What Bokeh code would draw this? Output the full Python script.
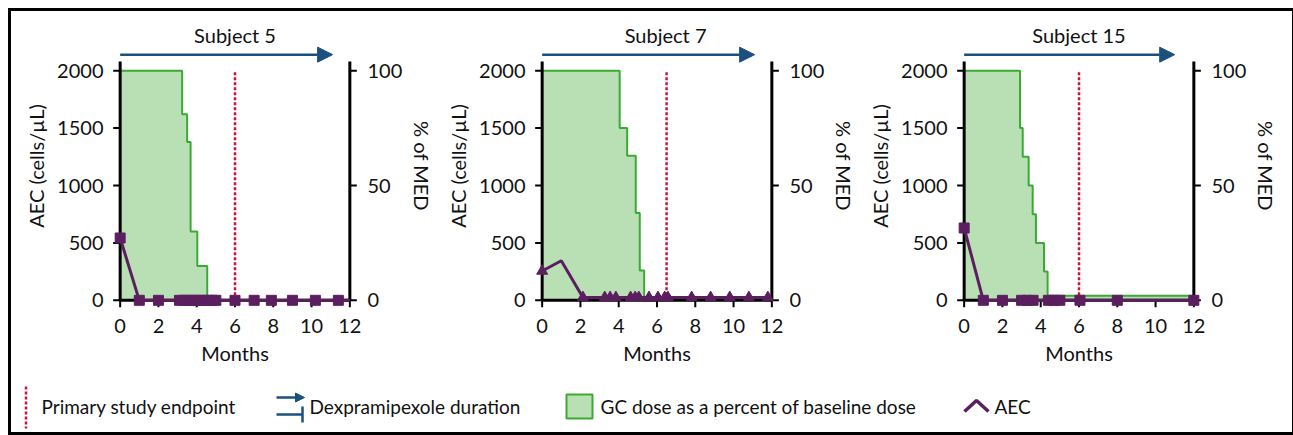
from bokeh.plotting import figure
from bokeh.models import Range1d, LinearAxis, FixedTicker, Arrow, NormalHead, Label
from bokeh.layouts import row, column
from bokeh.embed import file_html
from bokeh.resources import INLINE
from bokeh.core.properties import value

FONT = "Lato"
PURPLE = "#5b1f60"
GREEN_FILL = "#b9dfb4"
GREEN_LINE = "#3aaa35"
RED = "#d0103a"
BLUE = "#1b4f80"
INK = "#111111"

# ---------------- data ----------------
subjects = ["Subject 5", "Subject 7", "Subject 15"]
endpoint_month = [6.0, 6.5, 6.0]
dex_end_month = [11.1, 11.1, 11.0]

# GC dose (% of baseline / MED), step changes (value holds until next time)
gc5_t = [0, 3.24, 3.50, 3.68, 4.03, 4.55, 12]
gc5_pct = [100, 81, 69, 30, 15, 0, 0]
gc7_t = [0, 4.05, 4.44, 4.89, 5.10, 5.33, 12]
gc7_pct = [100, 75, 63, 38, 13, 0, 0]
gc15_t = [0, 2.92, 3.06, 3.37, 3.58, 3.75, 4.17, 4.36, 12]
gc15_pct = [100, 75, 62.5, 50, 37.5, 25, 12.5, 2, 2]

# AEC (cells/uL)
aec5_t = [0, 1, 2, 3.1, 3.35, 3.6, 3.85, 4.1, 4.35, 4.6, 4.8, 5.0, 6, 7, 7.9, 9, 10.2, 11.4, 12]
aec5 = [543, 0, 0, 0, 0, 0, 0, 0, 0, 0, 0, 0, 0, 0, 0, 0, 0, 0, 0]
aec5_marked = [True] * 18 + [False]

aec7_t = [0, 1.0, 2.13, 3.27, 3.55, 3.85, 4.62, 4.86, 5.05, 5.58, 6.05, 6.4, 6.57, 7.81, 8.8, 9.8, 10.8, 11.79]
aec7 = [255, 345, 25, 25, 25, 25, 25, 25, 25, 25, 25, 25, 25, 25, 25, 25, 25, 25]
aec7_marked = [True, False] + [True] * 16

aec15_t = [0, 1, 2, 3.0, 3.3, 3.6, 4.4, 4.7, 5.0, 6.05, 8, 12]
aec15 = [630, 0, 0, 0, 0, 0, 0, 0, 0, 0, 0, 0]
aec15_marked = [True] * 12

x_ticks = [0, 2, 4, 6, 8, 10, 12]
aec_ticks = [0, 500, 1000, 1500, 2000]
pct_ticks = [0, 50, 100]

legend_labels = ["Primary study endpoint", "Dexpramipexole duration",
                 "GC dose as a percent of baseline dose", "AEC"]

# ---------------- layout constants ----------------
title_x = [6.0, 6.45, 6.0]
TITLE_Y = 2315
ARROW_Y = 2140
FRAME_W, FRAME_H = 245, 287
FIG_H = 370
X0, X1 = -0.4, 12.4
Y0, Y1 = -80, 2420
PCT = 20.0              # AEC units per percent on the right axis
X_MAX, AEC_TOP = 12, 2080
TICK_PX = 7
TDX = TICK_PX * (X1 - X0) / FRAME_W
TDY = TICK_PX * (Y1 - Y0) / FRAME_H
FS = "20px"


def style_axis(ax, standoff, label_standoff):
    ax.axis_line_color = None
    ax.major_tick_line_color = None
    ax.minor_tick_line_color = None
    ax.major_tick_out = 0
    ax.major_tick_in = 0
    ax.major_label_text_font = FONT
    ax.major_label_text_font_size = FS
    ax.major_label_text_color = INK
    ax.major_label_standoff = standoff
    ax.axis_label_text_font = FONT
    ax.axis_label_text_font_size = FS
    ax.axis_label_text_font_style = "normal"
    ax.axis_label_text_color = INK
    ax.axis_label_standoff = label_standoff


def make_panel(i, gc_t, gc_pct, aec_t, aec_v, marked, marker, left, right):
    p = figure(frame_width=FRAME_W, frame_height=FRAME_H,
               x_range=Range1d(X0, X1), y_range=Range1d(Y0, Y1),
               output_backend="svg", toolbar_location=None,
               min_border_left=left, min_border_right=right,
               min_border_top=11, min_border_bottom=FIG_H - 11 - FRAME_H)
    p.extra_y_ranges = {"pct": Range1d(Y0 / PCT, Y1 / PCT)}
    p.grid.visible = False
    p.outline_line_color = None

    xa = p.xaxis[0]
    style_axis(xa, 9, 5)
    xa.ticker = FixedTicker(ticks=x_ticks)
    xa.bounds = (0, X_MAX)
    xa.axis_label = "Months"

    ya = p.yaxis[0]
    style_axis(ya, 9, 6)
    ya.ticker = FixedTicker(ticks=aec_ticks)
    ya.bounds = (0, AEC_TOP)
    ya.axis_label = "AEC (cells/µL)"

    ra = LinearAxis(y_range_name="pct")
    style_axis(ra, 10, 5)
    ra.ticker = FixedTicker(ticks=pct_ticks)
    ra.bounds = (0, AEC_TOP / PCT)
    ra.axis_label = "% of MED"
    p.add_layout(ra, "right")

    # GC dose area
    p.varea_step(x=gc_t, y1=[0] * len(gc_t), y2=gc_pct, step_mode="after",
                 fill_color=GREEN_FILL, y_range_name="pct")
    p.step(gc_t, gc_pct, mode="after", line_color=GREEN_LINE, line_width=2,
           y_range_name="pct")

    # axis lines and ticks through the origin
    p.segment(x0=[0, 0, X_MAX], y0=[0, 0, 0], x1=[0, X_MAX, X_MAX], y1=[AEC_TOP, 0, AEC_TOP],
              line_color="black", line_width=3)
    p.segment(x0=[0] * len(aec_ticks), y0=aec_ticks, x1=[-TDX] * len(aec_ticks), y1=aec_ticks,
              line_color="black", line_width=2)
    p.segment(x0=x_ticks, y0=[0] * len(x_ticks), x1=x_ticks, y1=[-TDY] * len(x_ticks),
              line_color="black", line_width=2)
    p.segment(x0=[X_MAX] * len(pct_ticks), y0=pct_ticks, x1=[X_MAX + TDX] * len(pct_ticks),
              y1=pct_ticks, line_color="black", line_width=2, y_range_name="pct")

    # primary endpoint
    ep = endpoint_month[i]
    p.segment(x0=[ep], y0=[0], x1=[ep], y1=[2000], line_color=RED,
              line_width=2.5, line_dash="3 2")

    # AEC
    p.line(aec_t, aec_v, line_color=PURPLE, line_width=3)
    mx = [t for t, m in zip(aec_t, marked) if m]
    my = [v for v, m in zip(aec_v, marked) if m]
    p.scatter(mx, my, marker=marker, size=10 if marker == "square" else 11,
              fill_color=PURPLE, line_color=PURPLE)

    # Dexpramipexole duration arrow + title
    p.add_layout(Arrow(x_start=0, y_start=ARROW_Y, x_end=dex_end_month[i], y_end=ARROW_Y,
                       line_color=BLUE, line_width=2.5,
                       end=NormalHead(size=15, fill_color=BLUE, line_color=BLUE)))
    p.add_layout(Label(x=title_x[i], y=TITLE_Y, text=subjects[i], text_align="center",
                       text_baseline="alphabetic", text_font=FONT,
                       text_font_size=FS, text_color=INK))
    return p


# widths: 425 / 421 / 433  (sum 1279)
p1 = make_panel(0, gc5_t, gc5_pct, aec5_t, aec5, aec5_marked, "square", 101, 79)
p2 = make_panel(1, gc7_t, gc7_pct, aec7_t, aec7, aec7_marked, "triangle", 97, 79)
p3 = make_panel(2, gc15_t, gc15_pct, aec15_t, aec15, aec15_marked, "square", 97, 91)

# ---------------- legend ----------------
leg = figure(width=1279, height=51, x_range=Range1d(11, 1290), y_range=Range1d(432, 381),
             output_backend="svg", toolbar_location=None, min_border=0,
             x_axis_type=None, y_axis_type=None)
leg.grid.visible = False
leg.outline_line_color = None

leg.segment(x0=[25.5], y0=[386], x1=[25.5], y1=[428], line_color=RED,
            line_width=2.5, line_dash="3 2")
leg.add_layout(Arrow(x_start=276, y_start=397, x_end=304, y_end=397, line_color=BLUE,
                     line_width=2.5, end=NormalHead(size=9, fill_color=BLUE, line_color=BLUE)))
leg.segment(x0=[276, 302], y0=[414, 406], x1=[302, 302], y1=[414, 422],
            line_color=BLUE, line_width=2.5)
leg.quad(left=[566], right=[592], top=[394], bottom=[418], fill_color=GREEN_FILL,
         line_color=GREEN_LINE, line_width=2)
leg.line([964, 976, 988], [411, 400, 411], line_color=PURPLE, line_width=3.5)
leg.text(x=[41, 309, 600, 994], y=[406, 406, 406, 406], text=legend_labels,
         text_font=value(FONT), text_font_size="19px", text_baseline="middle",
         text_color=INK)

layout = column(row(p1, p2, p3), leg,
                styles={"border": "3px solid black", "margin-left": "8px", "margin-top": "8px"})

open("out.html", "w").write(file_html(layout, INLINE))
